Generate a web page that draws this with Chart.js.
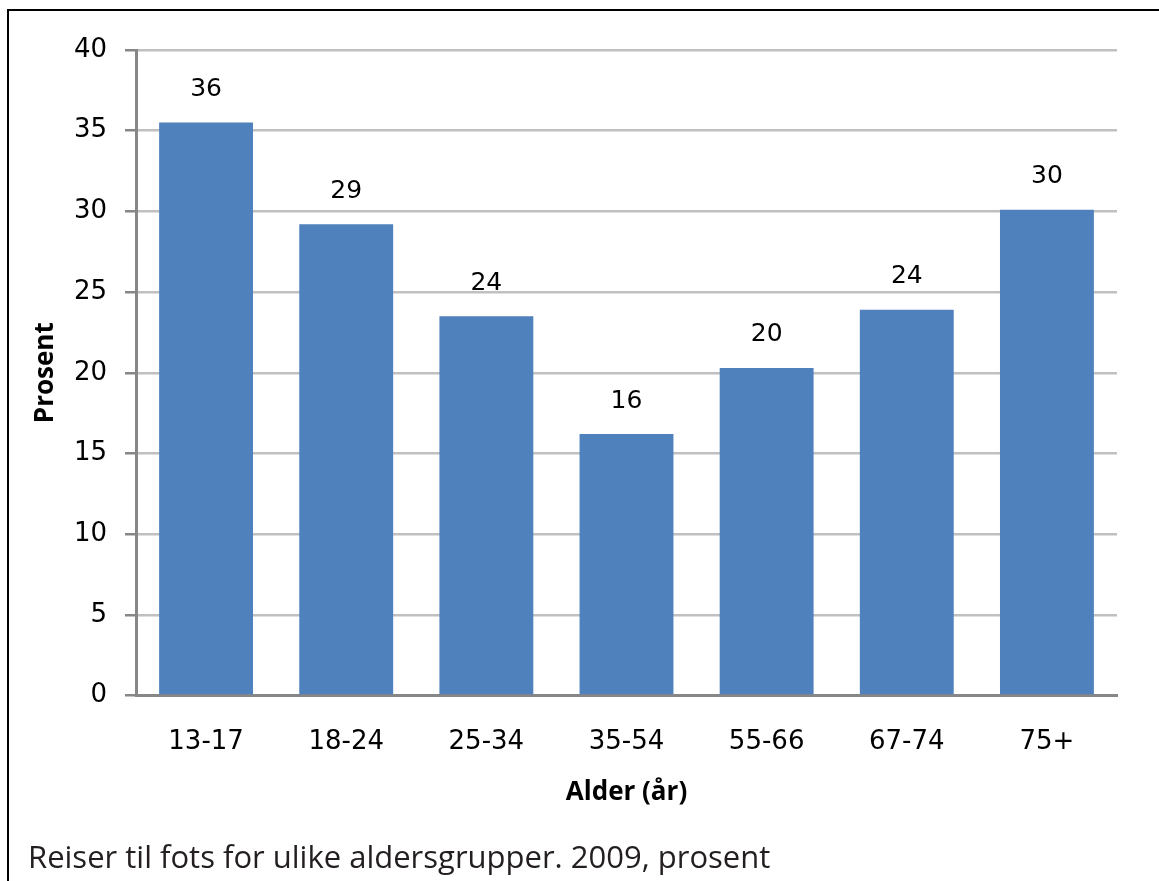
<!DOCTYPE html>
<html lang="no">
<head>
<meta charset="utf-8">
<title>Reiser til fots for ulike aldersgrupper</title>
<script src="https://cdn.jsdelivr.net/npm/chart.js@4.4.1/dist/chart.umd.min.js"></script>
<style>
  html, body { margin: 0; padding: 0; background: #ffffff; }
  #wrap { position: relative; width: 1159px; height: 881px; }
  canvas { display: block; }
</style>
</head>
<body>
<div id="wrap"><canvas id="chart" width="1159" height="881"></canvas></div>
<script>
// Age groups and share of trips made on foot (percent), 2009
const categories = ['13-17', '18-24', '25-34', '35-54', '55-66', '67-74', '75+'];
const shareOnFoot = [35.5, 29.2, 23.5, 16.2, 20.3, 23.9, 30.1];
const yTicks = [0, 5, 10, 15, 20, 25, 30, 35, 40];

const captionText = 'Reiser til fots for ulike aldersgrupper. 2009, prosent';
const yTitle = 'Prosent';
const xTitle = 'Alder (år)';

const BAR = '#4f81bd';
const GRID = '#c0c0c0';
const AXIS = '#878787';
const FONT = "'Open Sans', 'DejaVu Sans', sans-serif";
const NUM_FONT = "'DejaVu Sans', sans-serif";

// Thin black frame around the figure
const framePlugin = {
  id: 'frame',
  beforeDraw(chart) {
    const ctx = chart.ctx;
    ctx.save();
    ctx.fillStyle = '#ffffff';
    ctx.fillRect(0, 0, chart.width, chart.height);
    ctx.strokeStyle = '#000000';
    ctx.lineWidth = 2;
    ctx.strokeRect(8, 10, chart.width + 20, chart.height + 20);
    ctx.restore();
  }
};

// Value labels above each bar
const valueLabels = {
  id: 'valueLabels',
  afterDatasetsDraw(chart) {
    const ctx = chart.ctx;
    const meta = chart.getDatasetMeta(0);
    const data = chart.data.datasets[0].data;
    ctx.save();
    ctx.font = `25px ${NUM_FONT}`;
    ctx.fillStyle = '#000000';
    ctx.textAlign = 'center';
    ctx.textBaseline = 'middle';
    meta.data.forEach((bar, i) => {
      ctx.fillText(String(Math.round(data[i])), bar.x, bar.y - 33);
    });
    ctx.restore();
  }
};

new Chart(document.getElementById('chart'), {
  type: 'bar',
  data: {
    labels: categories,
    datasets: [{
      data: shareOnFoot,
      backgroundColor: BAR,
      borderWidth: 0,
      barPercentage: 0.67,
      categoryPercentage: 1.0
    }]
  },
  options: {
    responsive: false,
    animation: false,
    devicePixelRatio: 1,
    layout: { padding: { left: 28, top: 50, right: 42, bottom: 0 } },
    plugins: {
      legend: { display: false },
      tooltip: { enabled: false },
      title: {
        display: true,
        text: captionText,
        position: 'bottom',
        align: 'start',
        color: '#231f20',
        font: { family: FONT, size: 31, weight: 'normal', lineHeight: 1.1 },
        padding: { top: 0, bottom: 5 }
      }
    },
    scales: {
      x: {
        grid: { display: false, drawTicks: false },
        border: { display: true, color: AXIS, width: 3 },
        ticks: {
          color: '#000000',
          padding: 31,
          font: { family: NUM_FONT, size: 26 }
        },
        title: {
          display: true,
          text: xTitle,
          color: '#000000',
          font: { family: FONT, size: 26, weight: 'bold', lineHeight: 1.2 },
          padding: { top: 0, bottom: 34 }
        },
        afterFit(scale) { scale.height = 146.4; }
      },
      y: {
        min: 0,
        max: 40,
        afterBuildTicks(scale) { scale.ticks = yTicks.map(v => ({ value: v })); },
        grid: {
          color: GRID,
          lineWidth: 2.5,
          tickColor: AXIS,
          tickLength: 11,
          drawTicks: true
        },
        border: { display: true, color: AXIS, width: 3 },
        ticks: {
          color: '#000000',
          padding: 18,
          font: { family: NUM_FONT, size: 26 }
        },
        title: {
          display: true,
          text: yTitle,
          color: '#000000',
          font: { family: FONT, size: 26, weight: 'bold', lineHeight: 1 },
          padding: { top: 5, bottom: 0 }
        },
        afterFit(scale) { scale.width = 108; }
      }
    }
  },
  plugins: [framePlugin, valueLabels]
});
</script>
</body>
</html>
